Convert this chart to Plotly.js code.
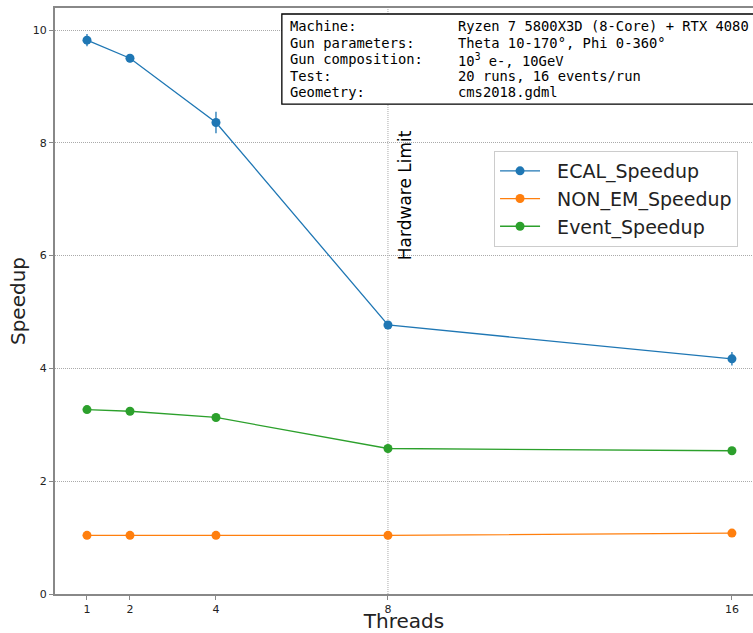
<!DOCTYPE html>
<html>
<head>
<meta charset="utf-8">
<script src="https://cdn.plot.ly/plotly-3.0.1.min.js"></script>
<style>html,body{margin:0;padding:0;background:#fff;}#chart{width:753px;height:633px;}</style>
</head>
<body>
<div id="chart"></div>
<script>
const threads = [1, 2, 4, 8, 16];
const ecalSpeedup = [9.82, 9.50, 8.36, 4.77, 4.17];
const ecalErr = [0.11, 0.07, 0.19, 0.05, 0.12];
const nonEmSpeedup = [1.04, 1.04, 1.04, 1.04, 1.08];
const nonEmErr = [0.02, 0.02, 0.02, 0.02, 0.02];
const eventSpeedup = [3.27, 3.24, 3.13, 2.58, 2.54];
const eventErr = [0.02, 0.02, 0.02, 0.02, 0.02];
const xTicks = [1, 2, 4, 8, 16];
const yTicks = [0, 2, 4, 6, 8, 10];
const infoLabels = ["Machine:", "Gun parameters:", "Gun composition:", "Test:", "Geometry:"];
const infoValues = ["Ryzen 7 5800X3D (8-Core) + RTX 4080", "Theta 10-170°, Phi 0-360°", "10<sup>3</sup> e-, 10GeV", "20 runs, 16 events/run", "cms2018.gdml"];

function mk(name, y, err, color) {
  return {
    x: threads, y: y, name: '\u00A0\u00A0' + name, type: 'scatter', mode: 'lines+markers',
    line: {color: color, width: 1.3},
    marker: {color: color, size: 9},
    error_y: {type: 'data', array: err, visible: true, color: color, thickness: 1.3, width: 0}
  };
}
const data = [
  mk('ECAL_Speedup', ecalSpeedup, ecalErr, '#1f77b4'),
  mk('NON_EM_Speedup', nonEmSpeedup, nonEmErr, '#ff7f0e'),
  mk('Event_Speedup', eventSpeedup, eventErr, '#2ca02c')
];
const mono = 'DejaVu Sans Mono, monospace';
const lineH = 16.6;
const plotH = 586;
const annotations = [];
infoLabels.forEach((t, i) => {
  annotations.push({xref: 'paper', yref: 'paper', x: 0.3338, y: 1 - (8 + i * lineH) / plotH, xanchor: 'left', yanchor: 'top', text: t, showarrow: false, align: 'left', font: {family: mono, size: 13.8, color: '#000'}});
  annotations.push({xref: 'paper', yref: 'paper', x: 0.574, y: 1 - (8 + i * lineH) / plotH, xanchor: 'left', yanchor: 'top', text: infoValues[i], showarrow: false, align: 'left', font: {family: mono, size: 13.8, color: '#000'}});
});
annotations.push({xref: 'x', yref: 'y', x: 8, y: 7.07, xshift: 17, text: 'Hardware Limit', textangle: -90, showarrow: false, font: {family: 'DejaVu Sans', size: 17, color: '#000'}});

const layout = {
  width: 753, height: 633,
  margin: {l: 55, r: 0, t: 8, b: 39},
  paper_bgcolor: '#fff', plot_bgcolor: '#fff',
  font: {family: 'DejaVu Sans', color: '#222'},
  showlegend: true,
  legend: {x: 0.629, y: 0.756, xanchor: 'left', yanchor: 'top', bgcolor: '#fff', bordercolor: '#ccc', borderwidth: 1, font: {size: 19, color: '#222'}, itemwidth: 40, tracegroupgap: 0},
  xaxis: {
    range: [0.256, 16.49], tickvals: xTicks, ticktext: xTicks.map(String),
    showgrid: false, zeroline: false, showline: true, mirror: true, linecolor: '#888', linewidth: 2,
    ticks: 'outside', ticklen: 4, tickcolor: '#888', tickfont: {size: 11, color: '#222'},
    title: {text: 'Threads', font: {size: 20, color: '#222'}, standoff: 7}
  },
  yaxis: {
    range: [0, 10.39], tickvals: yTicks, ticktext: yTicks.map(String),
    showgrid: true, gridcolor: '#aaa', griddash: '1px,1px', gridwidth: 1, zeroline: false,
    showline: true, mirror: false, linecolor: '#888', linewidth: 2,
    ticks: 'outside', ticklen: 4, tickcolor: '#888', tickfont: {size: 11, color: '#222'},
    title: {text: 'Speedup', font: {size: 20, color: '#222'}, standoff: 2}
  },
  shapes: [
    {type: 'line', xref: 'x', yref: 'paper', x0: 8, x1: 8, y0: 0, y1: 1, line: {color: '#aaa', width: 1, dash: '1px,1px'}, layer: 'below'},
    {type: 'rect', xref: 'paper', yref: 'paper', x0: 0.325, x1: 1.02, y0: 0.836, y1: 0.9898, line: {color: '#000', width: 1.3}, fillcolor: '#fff', layer: 'above'}
  ],
  annotations: annotations
};
Plotly.newPlot('chart', data, layout, {staticPlot: true, displayModeBar: false});
</script>
</body>
</html>
